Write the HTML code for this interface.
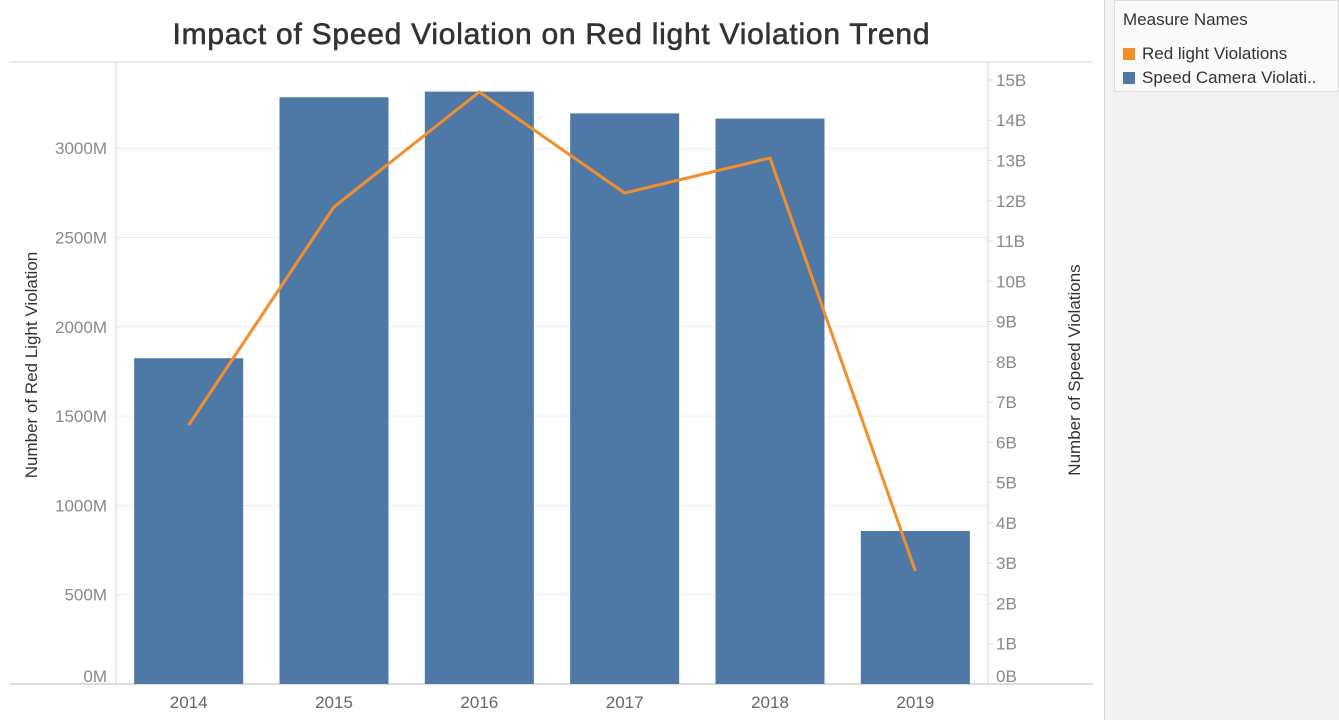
<!DOCTYPE html>
<html><head><meta charset="utf-8"><style>
body{margin:0;width:1339px;height:720px;background:#fff;font-family:"Liberation Sans",sans-serif;overflow:hidden;position:relative}
#side{position:absolute;left:1104px;top:0;width:235px;height:720px;background:#f2f2f2;border-left:1px solid #d4d4d4}
#legend{position:absolute;left:1114px;top:0;width:225px;height:92px;background:#fafafa;border:1px solid #ddd;box-sizing:border-box}
.li{position:absolute;left:8px;font-size:17px;color:#333;white-space:nowrap}
.sw{display:inline-block;width:12px;height:12px;margin-right:7px;vertical-align:-1px}
</style></head><body>
<div id="side"></div>
<div id="legend">
<div class="li" style="top:9px">Measure Names</div>
<div class="li" style="top:43px"><span class="sw" style="background:#f28e2b"></span>Red light Violations</div>
<div class="li" style="top:67px"><span class="sw" style="background:#4e79a7"></span>Speed Camera Violati..</div>
</div>
<svg id="chart" width="1100" height="720" style="position:absolute;left:0;top:0"></svg>
<script>
const years=["2014","2015","2016","2017","2018","2019"];
const speedB=[8.09,14.57,14.71,14.17,14.04,3.80];
const redM=[1450,2671,3315,2749,2945,633];
const leftTicks=[0,500,1000,1500,2000,2500,3000];
const rightTicks=[0,1,2,3,4,5,6,7,8,9,10,11,12,13,14,15];
const NS="http://www.w3.org/2000/svg";
const svg=document.getElementById('chart');
const X0=116,X1=988,Y0=684;
const band=(X1-X0)/years.length;
const xc=i=>X0+band*(i+0.5);
const yL=v=>Y0-v*89.3/500;
const yR=v=>Y0-v*40.27;
function el(t,a,txt){const e=document.createElementNS(NS,t);for(const k in a)e.setAttribute(k,a[k]);if(txt!==undefined)e.textContent=txt;svg.appendChild(e);return e;}
let e;
e=el('text',{x:551,y:44,'text-anchor':'middle','font-size':30,fill:'#333',stroke:'#333','stroke-width':0.6,textLength:757},'Impact of Speed Violation on Red light Violation Trend');


leftTicks.forEach(v=>{
 if(v>0){e=el('line',{x1:X0,x2:X1,y1:yL(v),y2:yL(v),stroke:'#ececec'});
 
 }
 e=el('text',{x:107,y:Math.min(yL(v),676)+6,'text-anchor':'end','font-size':17,fill:'#888'},v+'M');
 
 
});
rightTicks.forEach(v=>{
 e=el('line',{x1:X1,x2:X1+5,y1:yR(v),y2:yR(v),stroke:'#ddd'});
 e=el('text',{x:996,y:Math.min(yR(v),676)+6,'font-size':17,fill:'#888'},v+'B');
 
 
});
el('line',{x1:10,x2:1093,y1:62,y2:62,stroke:'#d4d4d4'});
el('line',{x1:10,x2:1093,y1:Y0,y2:Y0,stroke:'#bbb'});
el('line',{x1:X0,x2:X0,y1:62,y2:Y0,stroke:'#d4d4d4'});
el('line',{x1:X1,x2:X1,y1:62,y2:Y0,stroke:'#d4d4d4'});
years.forEach((y,i)=>{
 const bw=109;
 e=el('rect',{x:xc(i)-bw/2,y:yR(speedB[i]),width:bw,height:Y0-yR(speedB[i]),fill:'#4e79a7'});
 
 
 e=el('text',{x:xc(i),y:708,'text-anchor':'middle','font-size':17,fill:'#666'},y);
 
 
});
e=el('polyline',{points:redM.map((v,i)=>xc(i)+','+yL(v)).join(' '),fill:'none',stroke:'#f28e2b','stroke-width':3});


e=el('text',{transform:'translate(37,365) rotate(-90)','text-anchor':'middle','font-size':17,fill:'#333'},'Number of Red Light Violation');


e=el('text',{transform:'translate(1080,370) rotate(-90)','text-anchor':'middle','font-size':17,fill:'#333'},'Number of Speed Violations');


</script>
</body></html>
